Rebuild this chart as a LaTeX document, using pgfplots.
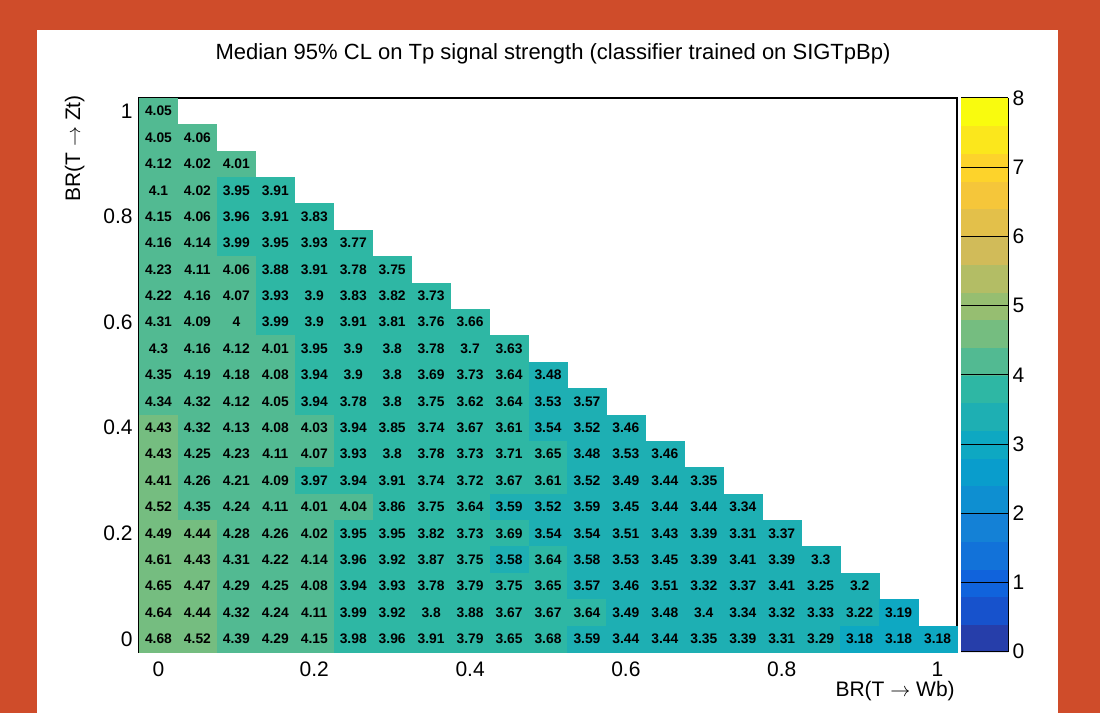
\documentclass[border=0pt]{standalone}
\usepackage{fontspec}
\setmainfont{Liberation Sans}
\usepackage{pgfplots}
\pgfplotsset{compat=1.18}
\usepackage{pgfplotstable}
\pgfplotsset{/pgf/number format/assume math mode=true}
\definecolor{bg}{RGB}{207,76,42}

\pgfplotstableread[row sep=\\]{
x y z\\
0 1 4.05\\
0 .95 4.05\\ .05 .95 4.06\\
0 .9 4.12\\ .05 .9 4.02\\ .1 .9 4.01\\
0 .85 4.1\\ .05 .85 4.02\\ .1 .85 3.95\\ .15 .85 3.91\\
0 .8 4.15\\ .05 .8 4.06\\ .1 .8 3.96\\ .15 .8 3.91\\ .2 .8 3.83\\
0 .75 4.16\\ .05 .75 4.14\\ .1 .75 3.99\\ .15 .75 3.95\\ .2 .75 3.93\\ .25 .75 3.77\\
0 .7 4.23\\ .05 .7 4.11\\ .1 .7 4.06\\ .15 .7 3.88\\ .2 .7 3.91\\ .25 .7 3.78\\ .3 .7 3.75\\
0 .65 4.22\\ .05 .65 4.16\\ .1 .65 4.07\\ .15 .65 3.93\\ .2 .65 3.9\\ .25 .65 3.83\\ .3 .65 3.82\\ .35 .65 3.73\\
0 .6 4.31\\ .05 .6 4.09\\ .1 .6 4\\ .15 .6 3.99\\ .2 .6 3.9\\ .25 .6 3.91\\ .3 .6 3.81\\ .35 .6 3.76\\ .4 .6 3.66\\
0 .55 4.3\\ .05 .55 4.16\\ .1 .55 4.12\\ .15 .55 4.01\\ .2 .55 3.95\\ .25 .55 3.9\\ .3 .55 3.8\\ .35 .55 3.78\\ .4 .55 3.7\\ .45 .55 3.63\\
0 .5 4.35\\ .05 .5 4.19\\ .1 .5 4.18\\ .15 .5 4.08\\ .2 .5 3.94\\ .25 .5 3.9\\ .3 .5 3.8\\ .35 .5 3.69\\ .4 .5 3.73\\ .45 .5 3.64\\ .5 .5 3.48\\
0 .45 4.34\\ .05 .45 4.32\\ .1 .45 4.12\\ .15 .45 4.05\\ .2 .45 3.94\\ .25 .45 3.78\\ .3 .45 3.8\\ .35 .45 3.75\\ .4 .45 3.62\\ .45 .45 3.64\\ .5 .45 3.53\\ .55 .45 3.57\\
0 .4 4.43\\ .05 .4 4.32\\ .1 .4 4.13\\ .15 .4 4.08\\ .2 .4 4.03\\ .25 .4 3.94\\ .3 .4 3.85\\ .35 .4 3.74\\ .4 .4 3.67\\ .45 .4 3.61\\ .5 .4 3.54\\ .55 .4 3.52\\ .6 .4 3.46\\
0 .35 4.43\\ .05 .35 4.25\\ .1 .35 4.23\\ .15 .35 4.11\\ .2 .35 4.07\\ .25 .35 3.93\\ .3 .35 3.8\\ .35 .35 3.78\\ .4 .35 3.73\\ .45 .35 3.71\\ .5 .35 3.65\\ .55 .35 3.48\\ .6 .35 3.53\\ .65 .35 3.46\\
0 .3 4.41\\ .05 .3 4.26\\ .1 .3 4.21\\ .15 .3 4.09\\ .2 .3 3.97\\ .25 .3 3.94\\ .3 .3 3.91\\ .35 .3 3.74\\ .4 .3 3.72\\ .45 .3 3.67\\ .5 .3 3.61\\ .55 .3 3.52\\ .6 .3 3.49\\ .65 .3 3.44\\ .7 .3 3.35\\
0 .25 4.52\\ .05 .25 4.35\\ .1 .25 4.24\\ .15 .25 4.11\\ .2 .25 4.01\\ .25 .25 4.04\\ .3 .25 3.86\\ .35 .25 3.75\\ .4 .25 3.64\\ .45 .25 3.59\\ .5 .25 3.52\\ .55 .25 3.59\\ .6 .25 3.45\\ .65 .25 3.44\\ .7 .25 3.44\\ .75 .25 3.34\\
0 .2 4.49\\ .05 .2 4.44\\ .1 .2 4.28\\ .15 .2 4.26\\ .2 .2 4.02\\ .25 .2 3.95\\ .3 .2 3.95\\ .35 .2 3.82\\ .4 .2 3.73\\ .45 .2 3.69\\ .5 .2 3.54\\ .55 .2 3.54\\ .6 .2 3.51\\ .65 .2 3.43\\ .7 .2 3.39\\ .75 .2 3.31\\ .8 .2 3.37\\
0 .15 4.61\\ .05 .15 4.43\\ .1 .15 4.31\\ .15 .15 4.22\\ .2 .15 4.14\\ .25 .15 3.96\\ .3 .15 3.92\\ .35 .15 3.87\\ .4 .15 3.75\\ .45 .15 3.58\\ .5 .15 3.64\\ .55 .15 3.58\\ .6 .15 3.53\\ .65 .15 3.45\\ .7 .15 3.39\\ .75 .15 3.41\\ .8 .15 3.39\\ .85 .15 3.3\\
0 .1 4.65\\ .05 .1 4.47\\ .1 .1 4.29\\ .15 .1 4.25\\ .2 .1 4.08\\ .25 .1 3.94\\ .3 .1 3.93\\ .35 .1 3.78\\ .4 .1 3.79\\ .45 .1 3.75\\ .5 .1 3.65\\ .55 .1 3.57\\ .6 .1 3.46\\ .65 .1 3.51\\ .7 .1 3.32\\ .75 .1 3.37\\ .8 .1 3.41\\ .85 .1 3.25\\ .9 .1 3.2\\
0 .05 4.64\\ .05 .05 4.44\\ .1 .05 4.32\\ .15 .05 4.24\\ .2 .05 4.11\\ .25 .05 3.99\\ .3 .05 3.92\\ .35 .05 3.8\\ .4 .05 3.88\\ .45 .05 3.67\\ .5 .05 3.67\\ .55 .05 3.64\\ .6 .05 3.49\\ .65 .05 3.48\\ .7 .05 3.4\\ .75 .05 3.34\\ .8 .05 3.32\\ .85 .05 3.33\\ .9 .05 3.22\\ .95 .05 3.19\\
0 0 4.68\\ .05 0 4.52\\ .1 0 4.39\\ .15 0 4.29\\ .2 0 4.15\\ .25 0 3.98\\ .3 0 3.96\\ .35 0 3.91\\ .4 0 3.79\\ .45 0 3.65\\ .5 0 3.68\\ .55 0 3.59\\ .6 0 3.44\\ .65 0 3.44\\ .7 0 3.35\\ .75 0 3.39\\ .8 0 3.31\\ .85 0 3.29\\ .9 0 3.18\\ .95 0 3.18\\ 1 0 3.18\\
}\cells

\pgfplotsset{
  colormap={birdc}{
    rgb(0pt)=(.1486,.2438,.6649) rgb(0.995pt)=(.1486,.2438,.6649)
    rgb(1pt)=(.0890,.3212,.8006) rgb(1.995pt)=(.0890,.3212,.8006)
    rgb(2pt)=(.0630,.3887,.8624) rgb(2.995pt)=(.0630,.3887,.8624)
    rgb(3pt)=(.0705,.4464,.8505) rgb(3.995pt)=(.0705,.4464,.8505)
    rgb(4pt)=(.0780,.5041,.8385) rgb(4.995pt)=(.0780,.5041,.8385)
    rgb(5pt)=(.0561,.5592,.8197) rgb(5.995pt)=(.0561,.5592,.8197)
    rgb(6pt)=(.0342,.6143,.8008) rgb(6.995pt)=(.0342,.6143,.8008)
    rgb(7pt)=(.0546,.6571,.7616) rgb(7.995pt)=(.0546,.6571,.7616)
    rgb(8pt)=(.1174,.6874,.7021) rgb(8.995pt)=(.1174,.6874,.7021)
    rgb(9pt)=(.1802,.7178,.6425) rgb(9.995pt)=(.1802,.7178,.6425)
    rgb(10pt)=(.3202,.7304,.5720) rgb(10.995pt)=(.3202,.7304,.5720)
    rgb(11pt)=(.4601,.7429,.5015) rgb(11.995pt)=(.4601,.7429,.5015)
    rgb(12pt)=(.5878,.7459,.4429) rgb(12.995pt)=(.5878,.7459,.4429)
    rgb(13pt)=(.7032,.7394,.3964) rgb(13.995pt)=(.7032,.7394,.3964)
    rgb(14pt)=(.8186,.7328,.3499) rgb(14.995pt)=(.8186,.7328,.3499)
    rgb(15pt)=(.8894,.7542,.2887) rgb(15.995pt)=(.8894,.7542,.2887)
    rgb(16pt)=(.9602,.7755,.2274) rgb(16.995pt)=(.9602,.7755,.2274)
    rgb(17pt)=(.9918,.8256,.1682) rgb(17.995pt)=(.9918,.8256,.1682)
    rgb(18pt)=(.9841,.9044,.1111) rgb(18.995pt)=(.9841,.9044,.1111)
    rgb(19pt)=(.9764,.9832,.0539) rgb(20pt)=(.9764,.9832,.0539)
  }
}

\begin{document}
\begin{tikzpicture}
\fill[bg] (0,0) rectangle (660pt,427.8pt);
\fill[white] (22.2pt,0) rectangle (634.8pt,409.8pt);
\begin{axis}[
  at={(83.4pt,36.6pt)}, anchor=south west,
  width=490.8pt, height=332.4pt, scale only axis,
  xmin=-0.025, xmax=1.025, ymin=-0.025, ymax=1.025,
  xtick={0,0.2,0.4,0.6,0.8,1}, ytick={0,0.2,0.4,0.6,0.8,1},
  minor tick num=3,
  tick align=inside, tick pos=left,
  major tick length=3pt, minor tick length=1.8pt,
  every tick/.style={black, line width=0.5pt},
  axis line style={black, line width=0.7pt},
  axis on top,
  tick label style={font=\fontsize{12.6}{14}\selectfont},
  xticklabel style={inner sep=0pt, yshift=-6pt},
  yticklabel style={inner sep=0pt, xshift=-3.6pt},
  xlabel={BR(T \ensuremath{\rightarrow} Wb)},
  ylabel={BR(T \ensuremath{\rightarrow} Zt)},
  label style={font=\fontsize{12.6}{14}\selectfont},
  xlabel style={at={(axis description cs:1,0)}, anchor=base east, yshift=-26.4pt, xshift=-1.2pt, inner sep=0pt},
  ylabel style={at={(axis description cs:0,1)}, anchor=base east, yshift=35.4pt, xshift=1.8pt, inner sep=0pt},
  colormap name=birdc,
  point meta min=-0.004, point meta max=8,
  colorbar, colorbar sampled,
  colorbar style={
    at={(parent axis.north east)}, anchor=north west, xshift=-6pt,
    width=28.2pt, scale only axis,
    samples=21,
    ytick={0,1,2,3,4,5,6,7,8},
    tick align=inside, major tick length=14.4pt,
    every tick/.style={black, line width=0.6pt},
    axis line style={draw=none},
    yticklabel style={font=\fontsize{12.6}{14}\selectfont, inner sep=0pt, xshift=2.4pt},
    after end axis/.code={\draw[black, line width=0.6pt] (rel axis cs:1,0)--(rel axis cs:1,1);},
  },
]
\addplot[scatter, only marks, mark=square*, mark size=7.8pt, line width=0.3pt,
  every mark/.append style={xscale=1.479},
  point meta=explicit,
  scatter/use mapped color={draw=mapped color, fill=mapped color},
] table[x=x, y=y, meta=z] {\cells};
\addplot[draw=none, mark=none, point meta=explicit,
  nodes near coords={\pgfmathprintnumber{\pgfplotspointmeta}},
  every node near coord/.append style={text=black, anchor=center, inner sep=0pt, font=\bfseries\fontsize{8.3}{9}\selectfont},
] table[x=x, y=y, meta=z] {\cells};
\end{axis}
\node[anchor=base, font=\fontsize{13.2}{15}\selectfont] at (331.8pt,391.8pt) {Median 95\% CL on Tp signal strength (classifier trained on SIGTpBp)};
\end{tikzpicture}
\end{document}
